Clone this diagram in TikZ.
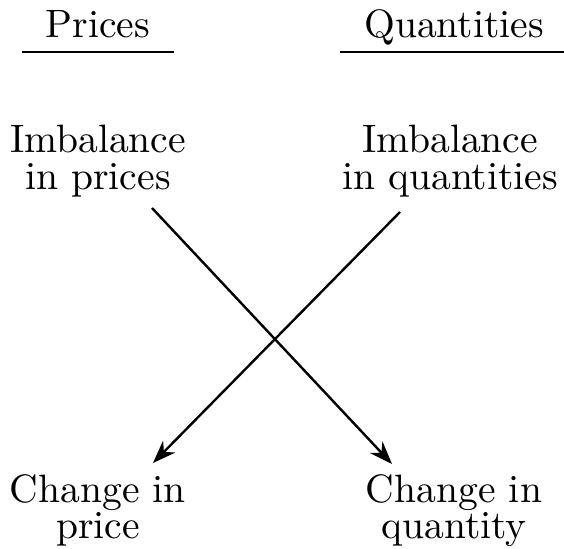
\documentclass[tikz,border=0pt]{standalone}
\usepackage{fontspec}
\setmainfont{lmroman10-regular.otf}
\usetikzlibrary{arrows.meta}
\begin{document}
\begin{tikzpicture}[x=1pt,y=-1pt,
  lbl/.style={font=\fontsize{39.6}{36}\selectfont, align=center, inner sep=0pt, anchor=base},
  hdr/.style={font=\fontsize{39.6}{36}\selectfont, inner xsep=24pt, inner ysep=14pt, text depth=0pt, outer sep=0pt, anchor=south},
  rule/.style={line width=2.7pt},
  arr/.style={line width=2.4pt, -{Stealth[length=23pt, width=17pt]}}]
\useasboundingbox (0,0) rectangle (564,548);
\node[hdr] (p) at (98,52) {Prices};
\node[hdr] (q) at (454,52) {Quantities};
\draw[rule] (p.south west) -- (p.south east);
\draw[rule] (q.south west) -- (q.south east);
\node[lbl] (ip) at (98,189) {Imbalance\\in prices};
\node[lbl] (iq) at (450,189) {Imbalance\\in quantities};
\node[lbl, font=\fontsize{39.6}{31}\selectfont] (cp) at (98,538) {Change in\\price};
\node[lbl, font=\fontsize{39.6}{31}\selectfont] (cq) at (454,538) {Change in\\quantity};
\coordinate (s1) at (152,208);
\coordinate (e1) at (392,464);
\coordinate (s2) at (400,212);
\coordinate (e2) at (153,463);
\draw[arr] (s1) -- (e1);
\draw[arr] (s2) -- (e2);
\end{tikzpicture}
\end{document}
